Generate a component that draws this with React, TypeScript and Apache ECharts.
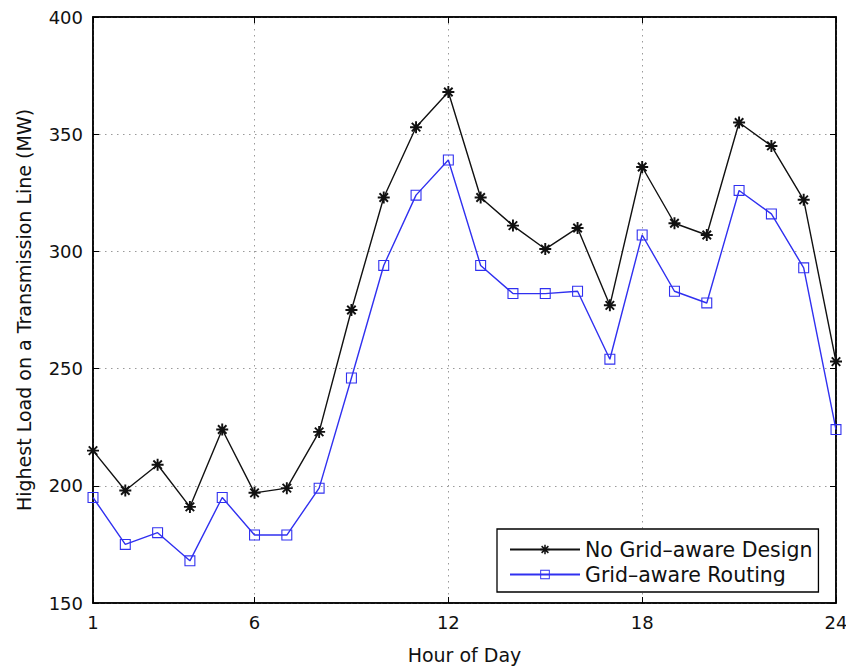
import React, { useEffect, useRef } from "react";
import * as echarts from "echarts";

const hours = [1, 2, 3, 4, 5, 6, 7, 8, 9, 10, 11, 12, 13, 14, 15, 16, 17, 18, 19, 20, 21, 22, 23, 24];
const noGridAware = [215, 198, 209, 191, 224, 197, 199, 223, 275, 323, 353, 368, 323, 311, 301, 310, 277, 336, 312, 307, 355, 345, 322, 253];
const gridAware = [195, 175, 180, 168, 195, 179, 179, 199, 246, 294, 324, 339, 294, 282, 282, 283, 254, 307, 283, 278, 326, 316, 293, 224];
const xTicks = [1, 6, 12, 18, 24];
const seriesNames = ["No Grid\u2013aware Design", "Grid\u2013aware Routing"];

const STAR =
  "path://M-5,-0.8L5,-0.8L5,0.8L-5,0.8Z M-0.8,-5L0.8,-5L0.8,5L-0.8,5Z M-2.97,-4.1L4.1,2.97L2.97,4.1L-4.1,-2.97Z M2.97,-4.1L4.1,-2.97L-2.97,4.1L-4.1,2.97Z";
const SQUARE = "path://M-5,-5L5,-5L5,5L-5,5Z M-4,-4L-4,4L4,4L4,-4Z";

const FONT = "DejaVu Sans";

export default function App() {
  const ref = useRef<HTMLDivElement>(null);
  useEffect(() => {
    if (!ref.current) return;
    const chart = echarts.init(ref.current, null, { renderer: "svg" });
    const black = "#111111";
    const blue = "#3030f0";
    const gridLine = { show: true, lineStyle: { color: "#9a9a9a", type: [1.5, 4.5] as any, width: 1 } };
    chart.setOption({
      animation: false,
      backgroundColor: "#ffffff",
      grid: {
        left: 93,
        right: 10,
        top: 17,
        bottom: 63,
        show: true,
        borderColor: "#000",
        borderWidth: 1.5,
        outerBoundsMode: "none",
      } as any,
      legend: {
        left: 497,
        top: 529,
        orient: "vertical",
        backgroundColor: "#fff",
        borderColor: "#000",
        borderWidth: 1.3,
        borderRadius: 0,
        padding: [10, 6, 7, 12],
        itemGap: 4,
        itemWidth: 70,
        itemHeight: 12,
        textStyle: { fontFamily: FONT, fontSize: 20.5, color: "#111" },
        data: seriesNames,
      },
      xAxis: [
        {
          type: "value",
          min: 1,
          max: 24,
          name: "Hour of Day",
          nameLocation: "middle",
          nameGap: 42,
          nameTextStyle: { fontFamily: FONT, fontSize: 19, color: "#111" },
          axisLine: { show: true, lineStyle: { color: "#000", width: 1.5 } },
          axisTick: { show: true, inside: true, length: 6, customValues: xTicks, lineStyle: { color: "#000" } },
          axisLabel: { customValues: xTicks, fontFamily: FONT, fontSize: 18, color: "#111", margin: 10 },
          splitLine: gridLine,
        },
        {
          type: "value",
          min: 1,
          max: 24,
          position: "top",
          axisLine: { show: true, lineStyle: { color: "#000", width: 1.5 } },
          axisTick: { show: true, inside: true, length: 6, customValues: xTicks, lineStyle: { color: "#000" } },
          axisLabel: { show: false },
          splitLine: { show: false },
        },
      ],
      yAxis: [
        {
          type: "value",
          min: 150,
          max: 400,
          interval: 50,
          name: "Highest Load on a Transmission Line (MW)",
          nameLocation: "middle",
          nameGap: 60,
          nameTextStyle: { fontFamily: FONT, fontSize: 19, color: "#111" },
          axisLine: { show: true, lineStyle: { color: "#000", width: 1.5 } },
          axisTick: { show: true, inside: true, length: 6, lineStyle: { color: "#000" } },
          axisLabel: { fontFamily: FONT, fontSize: 18, color: "#111", margin: 10 },
          splitLine: gridLine,
        },
        {
          type: "value",
          min: 150,
          max: 400,
          interval: 50,
          position: "right",
          axisLine: { show: true, lineStyle: { color: "#000", width: 1.5 } },
          axisTick: { show: true, inside: true, length: 6, lineStyle: { color: "#000" } },
          axisLabel: { show: false },
          splitLine: { show: false },
        },
      ],
      series: [
        {
          name: seriesNames[0],
          type: "line",
          data: hours.map((h, i) => [h, noGridAware[i]]),
          symbol: STAR,
          symbolSize: 12,
          lineStyle: { color: black, width: 1.4 },
          itemStyle: { color: black, borderWidth: 0 },
          z: 3,
        },
        {
          name: seriesNames[1],
          type: "line",
          data: hours.map((h, i) => [h, gridAware[i]]),
          symbol: SQUARE,
          symbolSize: 11,
          lineStyle: { color: blue, width: 1.4 },
          itemStyle: { color: blue, borderWidth: 0 },
          z: 3,
        },
      ],
    });
    return () => chart.dispose();
  }, []);
  return <div ref={ref} style={{ width: 846, height: 666, position: "absolute", left: 0, top: 0 }} />;
}
